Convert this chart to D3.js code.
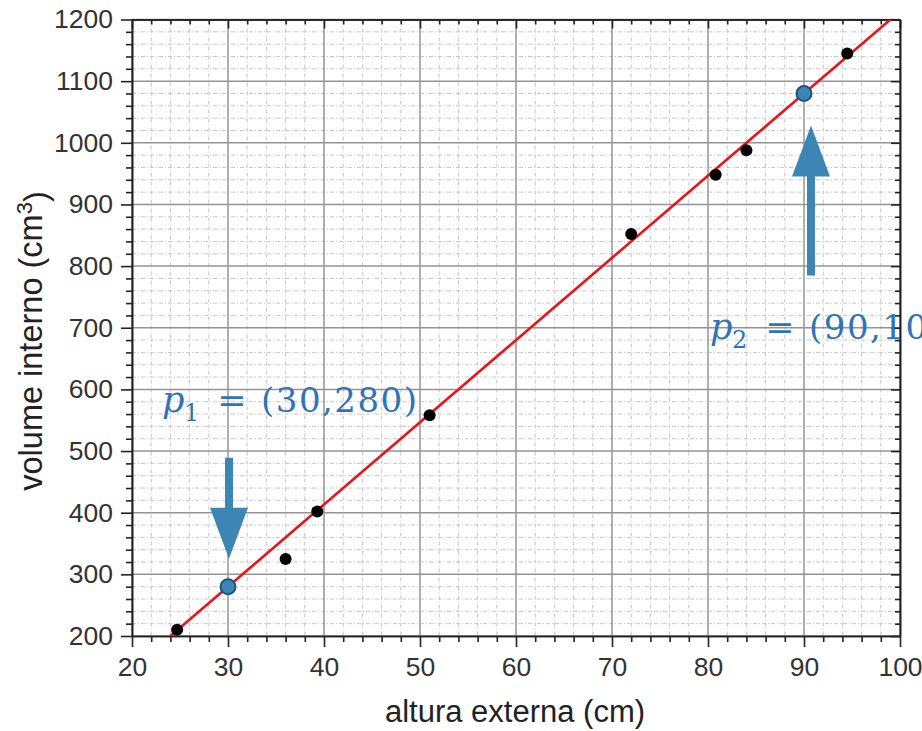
<!DOCTYPE html>
<html>
<head>
<meta charset="utf-8">
<script src="https://cdn.jsdelivr.net/npm/d3@7"></script>
<style>
  html, body { margin: 0; padding: 0; background: #fff; }
  svg { display: block; }
</style>
</head>
<body>
<svg id="chart" width="922" height="731"></svg>
<script>
// Measured samples: external height (cm) vs internal volume (cm^3)
const alturaExterna = [24.7, 36.0, 39.3, 51.0, 72.0, 80.8, 84.0, 94.5];
const volumeInterno = [210, 325, 402, 558, 852, 948, 988, 1145];

// Two highlighted points used to define the fitted line
const pointNames = ["p1", "p2"];
const pointX = [30, 90];
const pointY = [280, 1080];
const pointText = ["(30,280)", "(90,1080)"];

// Fitted line end points (through p1 and p2, spanning the axis range)
const fitX = [24, 99];
const fitY = [200, 1200];

// Axis ticks
const xTicks = [20, 30, 40, 50, 60, 70, 80, 90, 100];
const yTicks = [200, 300, 400, 500, 600, 700, 800, 900, 1000, 1100, 1200];
const xMinorStep = 2;
const yMinorStep = 20;

const svg = d3.select("#chart");
const W = 922, H = 731;
const plot = { left: 132, right: 900, top: 19.5, bottom: 636 };

const x = d3.scaleLinear().domain([20, 100]).range([plot.left, plot.right]);
const y = d3.scaleLinear().domain([200, 1200]).range([plot.bottom, plot.top]);

svg.append("rect").attr("width", W).attr("height", H).attr("fill", "#fff");

const xMinor = d3.range(20, 100.001, xMinorStep).filter(v => v % 10 !== 0);
const yMinor = d3.range(200, 1200.001, yMinorStep).filter(v => v % 100 !== 0);

// Minor grid (dashed)
const grid = svg.append("g");
grid.selectAll(".vmin").data(xMinor).join("line")
  .attr("x1", d => x(d)).attr("x2", d => x(d))
  .attr("y1", plot.top).attr("y2", plot.bottom)
  .attr("stroke", "#c6c6c6").attr("stroke-width", 1)
  .attr("stroke-dasharray", "4,2,1,2");
grid.selectAll(".hmin").data(yMinor).join("line")
  .attr("y1", d => y(d)).attr("y2", d => y(d))
  .attr("x1", plot.left).attr("x2", plot.right)
  .attr("stroke", "#c6c6c6").attr("stroke-width", 1)
  .attr("stroke-dasharray", "4,2,1,2");

// Major grid
grid.selectAll(".vmaj").data(xTicks).join("line")
  .attr("x1", d => x(d)).attr("x2", d => x(d))
  .attr("y1", plot.top).attr("y2", plot.bottom)
  .attr("stroke", "#949494").attr("stroke-width", 1.5);
grid.selectAll(".hmaj").data(yTicks).join("line")
  .attr("y1", d => y(d)).attr("y2", d => y(d))
  .attr("x1", plot.left).attr("x2", plot.right)
  .attr("stroke", "#949494").attr("stroke-width", 1.5);

// Axes: bottom and left with outward ticks and labels
const tickFont = "Liberation Sans, Arial, sans-serif";
function styleAxis(g) {
  g.select(".domain").attr("stroke", "#222").attr("stroke-width", 1.6);
  g.selectAll(".tick line").attr("stroke", "#222").attr("stroke-width", 1.6);
  g.selectAll(".tick text").attr("fill", "#333")
    .attr("font-family", tickFont).attr("font-size", 26.5);
}

const xAxis = svg.append("g").attr("transform", `translate(0,${plot.bottom})`)
  .call(d3.axisBottom(x).tickValues(xTicks).tickSize(11).tickSizeOuter(0).tickPadding(10).tickFormat(d3.format("d")));
styleAxis(xAxis);
const xAxisMinor = svg.append("g").attr("transform", `translate(0,${plot.bottom})`)
  .call(d3.axisBottom(x).tickValues(xMinor).tickSize(6).tickSizeOuter(0).tickFormat(""));
styleAxis(xAxisMinor);

const yAxis = svg.append("g").attr("transform", `translate(${plot.left},0)`)
  .call(d3.axisLeft(y).tickValues(yTicks).tickSize(11).tickSizeOuter(0).tickPadding(8).tickFormat(d3.format("d")));
styleAxis(yAxis);
const yAxisMinor = svg.append("g").attr("transform", `translate(${plot.left},0)`)
  .call(d3.axisLeft(y).tickValues(yMinor).tickSize(6).tickSizeOuter(0).tickFormat(""));
styleAxis(yAxisMinor);

// Top and right frame with inward ticks
const xTop = svg.append("g").attr("transform", `translate(0,${plot.top})`)
  .call(d3.axisBottom(x).tickValues(xTicks).tickSize(9).tickSizeOuter(0).tickFormat(""));
styleAxis(xTop);
const xTopMinor = svg.append("g").attr("transform", `translate(0,${plot.top})`)
  .call(d3.axisBottom(x).tickValues(xMinor).tickSize(5).tickSizeOuter(0).tickFormat(""));
styleAxis(xTopMinor);
const yRight = svg.append("g").attr("transform", `translate(${plot.right},0)`)
  .call(d3.axisLeft(y).tickValues(yTicks).tickSize(9).tickSizeOuter(0).tickFormat(""));
styleAxis(yRight);
const yRightMinor = svg.append("g").attr("transform", `translate(${plot.right},0)`)
  .call(d3.axisLeft(y).tickValues(yMinor).tickSize(5).tickSizeOuter(0).tickFormat(""));
styleAxis(yRightMinor);

// Axis titles
svg.append("text")
  .attr("x", (plot.left + plot.right) / 2 - 1).attr("y", 722)
  .attr("text-anchor", "middle")
  .attr("font-family", tickFont).attr("font-size", 31).attr("fill", "#222")
  .text("altura externa (cm)");

const yTitle = svg.append("text")
  .attr("transform", `translate(42,341) rotate(-90)`)
  .attr("text-anchor", "middle")
  .attr("font-family", tickFont).attr("font-size", 32.5).attr("fill", "#222");
yTitle.append("tspan").text("volume interno (cm");
yTitle.append("tspan").attr("dy", "-0.45em").attr("font-size", 22).text("3");
yTitle.append("tspan").attr("dy", "0.45em").text(")");

// Clip region for the fitted line
svg.append("clipPath").attr("id", "plotClip")
  .append("rect").attr("x", plot.left).attr("y", plot.top)
  .attr("width", plot.right - plot.left).attr("height", plot.bottom - plot.top);

const fitData = fitX.map((v, i) => [v, fitY[i]]);
svg.append("path")
  .datum(fitData)
  .attr("clip-path", "url(#plotClip)")
  .attr("d", d3.line().x(d => x(d[0])).y(d => y(d[1])))
  .attr("fill", "none").attr("stroke", "#e8141c").attr("stroke-width", 2.6);

// Measured points
svg.append("g").selectAll("circle")
  .data(alturaExterna.map((v, i) => [v, volumeInterno[i]]))
  .join("circle")
  .attr("cx", d => x(d[0])).attr("cy", d => y(d[1]))
  .attr("r", 6).attr("fill", "#000");

// Highlighted points
const blue = "#3d86b3";
svg.append("g").selectAll("circle")
  .data(pointX.map((v, i) => [v, pointY[i]]))
  .join("circle")
  .attr("cx", d => x(d[0])).attr("cy", d => y(d[1]))
  .attr("r", 7.5).attr("fill", blue)
  .attr("stroke", "#1d5577").attr("stroke-width", 2);

// Arrows pointing at the highlighted points
// dir: +1 arrow points downward to the point, -1 upward
const arrows = [
  { i: 0, dx: 1, dir: 1, gap: 28, len: 101 },
  { i: 1, dx: 7, dir: -1, gap: 32, len: 150 }
];
const headLen = 51, headW = 38, shaftW = 8;
arrows.forEach(a => {
  const cx = x(pointX[a.i]) + a.dx;
  const tipY = y(pointY[a.i]) - a.dir * a.gap;
  const baseY = tipY - a.dir * headLen;
  const endY = tipY - a.dir * a.len;
  const path = d3.path();
  path.moveTo(cx, tipY);
  path.lineTo(cx - headW / 2, baseY);
  path.lineTo(cx - shaftW / 2, baseY);
  path.lineTo(cx - shaftW / 2, endY);
  path.lineTo(cx + shaftW / 2, endY);
  path.lineTo(cx + shaftW / 2, baseY);
  path.lineTo(cx + headW / 2, baseY);
  path.closePath();
  svg.append("path").attr("d", path.toString()).attr("fill", blue);
});

// Point labels: p_n = (x,y)
const labelBlue = "#2f74b5";
const labelPos = [
  { dx: -66, dy: -175 },
  { dx: -94, dy: 246 }
];
const serif = "DejaVu Serif, Liberation Serif, serif";
pointNames.forEach((name, i) => {
  const px = x(pointX[i]) + labelPos[i].dx;
  const py = y(pointY[i]) + labelPos[i].dy;
  const g = svg.append("g").attr("transform", `translate(${px},${py})`)
    .attr("fill", labelBlue).attr("font-family", serif);
  g.append("text").attr("x", 0).attr("y", 0)
    .attr("font-size", 35).attr("font-style", "italic").text("p");
  g.append("text").attr("x", 22).attr("y", 9)
    .attr("font-size", 24).text(name.slice(1));
  g.append("text").attr("x", 70).attr("y", 0).attr("text-anchor", "middle")
    .attr("font-size", 35).text("=");
  g.append("text").attr("x", 99).attr("y", 0)
    .attr("font-size", 34).attr("letter-spacing", 1.5).text(pointText[i]);
});
</script>
</body>
</html>
